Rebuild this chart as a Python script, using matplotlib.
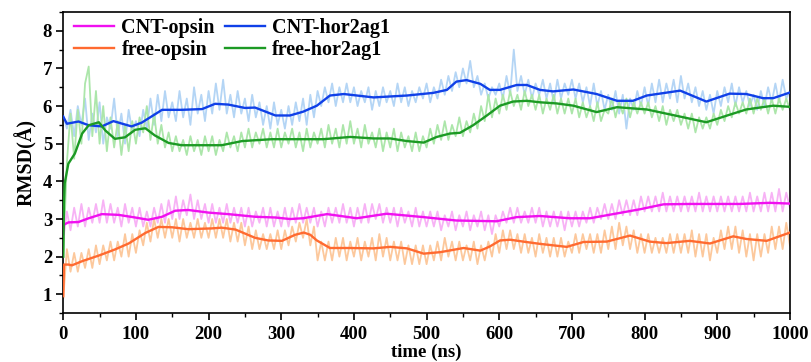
import numpy as np
import matplotlib
matplotlib.use("Agg")
import matplotlib.pyplot as plt
from matplotlib.ticker import MultipleLocator

t_raw = np.arange(0, 1001, 5)

raw_cnt_hor = [
    5.75, 5.4, 5.9, 5.2, 6.0, 5.5, 6.2, 5.1, 5.8, 5.3, 6.1, 5.0, 5.7, 5.4, 6.2, 5.2, 5.8, 5.0, 5.9, 5.3,
    5.6, 5.2, 5.9, 5.4, 6.2, 5.5, 6.3, 5.6, 6.4, 5.7, 6.1, 5.6, 6.4, 5.7, 6.2, 5.5, 6.5, 5.8, 6.3, 5.6,
    6.4, 5.8, 6.6, 5.9, 6.7, 5.8, 6.3, 5.7, 6.4, 5.8, 6.2, 5.6, 6.3, 5.7, 6.1, 5.5, 6.0, 5.4, 6.1, 5.5,
    5.9, 5.4, 6.0, 5.5, 6.1, 5.6, 6.2, 5.5, 6.3, 5.7, 6.4, 6.0, 6.5, 6.1, 6.6, 6.0, 6.5, 6.1, 6.6, 6.1,
    6.5, 6.0, 6.4, 6.1, 6.5, 5.9, 6.4, 6.0, 6.5, 6.1, 6.4, 6.0, 6.6, 6.1, 6.5, 6.0, 6.4, 6.1, 6.5, 6.2,
    6.6, 6.1, 6.5, 6.2, 6.7, 6.3, 6.8, 6.4, 6.9, 6.5, 7.0, 6.6, 7.2, 6.5, 6.8, 6.3, 6.6, 6.2, 6.5, 6.3,
    6.6, 6.2, 6.8, 6.3, 7.5, 6.4, 6.8, 6.3, 6.7, 6.2, 6.6, 6.3, 6.7, 6.2, 6.6, 6.1, 6.7, 6.2, 6.6, 6.3,
    6.7, 6.2, 6.6, 6.1, 6.5, 6.0, 6.6, 6.0, 6.4, 5.9, 6.3, 5.9, 6.4, 5.8, 6.3, 5.4, 6.2, 5.9, 6.4, 6.0,
    6.5, 6.0, 6.6, 6.1, 6.7, 6.1, 6.6, 6.2, 6.7, 6.1, 6.8, 6.2, 6.6, 6.1, 6.5, 6.0, 6.4, 5.9, 6.3, 5.8,
    6.4, 6.0, 6.5, 6.1, 6.6, 6.0, 6.5, 6.1, 6.4, 6.0, 6.3, 5.9, 6.4, 6.0, 6.5, 6.1, 6.6, 6.1, 6.7, 6.2,
    6.4]

raw_free_hor = [
    2.0, 4.5, 5.8, 4.6, 5.9, 5.0, 6.6, 7.05, 5.2, 6.4, 5.0, 6.0, 4.8, 5.7, 4.9, 5.6, 4.7, 5.5, 4.8, 5.6,
    5.0, 5.7, 5.3, 6.0, 5.1, 5.8, 5.0, 5.5, 4.9, 5.3, 4.8, 5.2, 4.8, 5.1, 4.7, 5.2, 4.8, 5.1, 4.7, 5.2,
    4.8, 5.2, 4.7, 5.1, 4.8, 5.3, 4.9, 5.2, 4.8, 5.3, 4.9, 5.4, 4.9, 5.3, 5.0, 5.4, 4.9, 5.3, 4.9, 5.4,
    4.9, 5.3, 5.0, 5.4, 4.9, 5.3, 4.8, 5.4, 4.9, 5.3, 5.0, 5.4, 4.9, 5.5, 5.0, 5.4, 4.9, 5.5, 5.0, 5.6,
    5.0, 5.4, 4.9, 5.5, 5.0, 5.3, 4.9, 5.4, 4.8, 5.3, 4.9, 5.4, 4.8, 5.3, 4.9, 5.2, 4.8, 5.3, 4.8, 5.2,
    4.9, 5.4, 5.0, 5.5, 5.1, 5.6, 5.1, 5.5, 5.2, 5.7, 5.2, 5.6, 5.3, 5.8, 5.4, 6.0, 5.6, 6.3, 5.7, 6.2,
    5.8, 6.3, 5.9, 6.4, 6.0, 6.3, 5.9, 6.4, 6.0, 6.3, 5.9, 6.3, 5.8, 6.2, 5.9, 6.3, 5.8, 6.2, 5.8, 6.2,
    5.8, 6.2, 5.7, 6.1, 5.7, 6.0, 5.6, 6.1, 5.6, 5.9, 5.8, 6.2, 5.7, 6.1, 5.8, 6.2, 5.7, 6.1, 5.8, 6.1,
    5.8, 6.1, 5.7, 6.0, 5.6, 6.0, 5.5, 5.9, 5.6, 5.9, 5.5, 5.8, 5.4, 5.8, 5.3, 5.7, 5.4, 5.7, 5.4, 5.8,
    5.5, 5.9, 5.6, 6.0, 5.7, 6.1, 5.8, 6.1, 5.8, 6.2, 5.8, 6.2, 5.9, 6.2, 5.8, 6.2, 5.8, 6.2, 5.9, 6.2,
    5.9]

raw_cnt_opsin = [
    2.5, 3.2, 2.7, 3.3, 2.8, 3.4, 2.8, 3.3, 2.9, 3.4, 2.9, 3.5, 2.9, 3.4, 2.9, 3.3, 2.8, 3.4, 2.9, 3.3,
    2.8, 3.3, 2.8, 3.2, 2.8, 3.3, 2.9, 3.4, 2.9, 3.5, 3.0, 3.6, 3.0, 3.5, 3.1, 3.65, 3.0, 3.5, 3.0, 3.4,
    2.9, 3.4, 2.9, 3.3, 2.9, 3.4, 2.9, 3.3, 2.9, 3.3, 2.8, 3.3, 2.8, 3.2, 2.9, 3.3, 2.8, 3.3, 2.8, 3.2,
    2.8, 3.3, 2.8, 3.3, 2.9, 3.4, 2.9, 3.3, 2.9, 3.3, 2.8, 3.2, 2.8, 3.3, 2.9, 3.3, 2.9, 3.4, 2.9, 3.3,
    2.8, 3.3, 2.9, 3.4, 2.9, 3.4, 3.0, 3.4, 2.9, 3.3, 2.9, 3.3, 2.8, 3.3, 2.9, 3.2, 2.8, 3.3, 2.8, 3.2,
    2.8, 3.2, 2.8, 3.2, 2.7, 3.1, 2.8, 3.2, 2.7, 3.1, 2.8, 3.2, 2.7, 3.1, 2.8, 3.2, 2.7, 3.1, 2.6, 3.1,
    2.8, 3.2, 2.9, 3.3, 2.9, 3.3, 2.9, 3.2, 2.9, 3.3, 2.9, 3.3, 2.8, 3.2, 2.8, 3.2, 2.8, 3.2, 2.7, 3.2,
    2.8, 3.2, 2.8, 3.2, 2.9, 3.3, 2.9, 3.3, 3.0, 3.4, 3.0, 3.4, 3.0, 3.5, 3.1, 3.5, 3.1, 3.5, 3.1, 3.6,
    3.2, 3.6, 3.2, 3.6, 3.2, 3.7, 3.2, 3.6, 3.2, 3.6, 3.2, 3.6, 3.2, 3.6, 3.2, 3.7, 3.2, 3.6, 3.2, 3.6,
    3.2, 3.6, 3.2, 3.6, 3.2, 3.6, 3.2, 3.6, 3.2, 3.7, 3.2, 3.6, 3.2, 3.7, 3.2, 3.7, 3.2, 3.8, 3.2, 3.7,
    3.3]

raw_free_opsin = [
    0.9, 2.2, 1.6, 2.1, 1.6, 2.1, 1.7, 2.2, 1.7, 2.3, 1.8, 2.3, 1.9, 2.4, 1.9, 2.4, 2.0, 2.6, 2.0, 2.6,
    2.1, 2.7, 2.3, 2.9, 2.4, 3.0, 2.5, 3.0, 2.5, 3.0, 2.5, 3.0, 2.4, 3.0, 2.5, 2.9, 2.5, 3.0, 2.5, 2.9,
    2.5, 3.0, 2.5, 3.0, 2.5, 3.0, 2.4, 2.9, 2.4, 2.9, 2.3, 2.8, 2.2, 2.7, 2.2, 2.6, 2.2, 2.6, 2.2, 2.7,
    2.2, 2.7, 2.3, 2.8, 2.4, 2.9, 2.5, 3.0, 2.3, 2.8, 1.9, 2.4, 1.9, 2.4, 1.9, 2.5, 2.0, 2.5, 1.9, 2.4,
    2.0, 2.5, 1.9, 2.4, 2.0, 2.5, 1.9, 2.6, 2.0, 2.5, 1.9, 2.4, 1.9, 2.4, 1.8, 2.3, 1.8, 2.3, 1.8, 2.3,
    1.8, 2.3, 1.9, 2.4, 1.9, 2.5, 2.0, 2.4, 1.9, 2.4, 1.9, 2.3, 1.9, 2.4, 1.8, 2.3, 1.9, 2.4, 2.0, 2.6,
    2.1, 2.7, 2.2, 2.7, 2.2, 2.6, 2.1, 2.6, 2.1, 2.5, 2.0, 2.6, 2.1, 2.5, 2.0, 2.5, 2.0, 2.5, 2.0, 2.4,
    2.1, 2.6, 2.1, 2.6, 2.2, 2.6, 2.1, 2.6, 2.1, 2.7, 2.2, 2.8, 2.2, 2.9, 2.3, 2.8, 2.2, 2.7, 2.1, 2.6,
    2.1, 2.6, 2.1, 2.5, 2.1, 2.5, 2.1, 2.6, 2.1, 2.6, 2.1, 2.6, 2.1, 2.7, 2.0, 2.6, 2.0, 2.6, 1.9, 2.5,
    2.1, 2.7, 2.2, 2.8, 2.2, 2.8, 2.1, 2.7, 2.0, 2.6, 1.9, 2.6, 2.0, 2.6, 2.1, 2.8, 2.2, 2.8, 2.2, 2.9,
    2.3]

# smoothed curves (running average), read at irregular times
t_cnt_hor = [0, 5, 21, 35, 53, 69, 94, 108, 136, 163, 191, 209, 227, 250, 264, 292, 312, 330, 349,
             367, 386, 427, 473, 509, 528, 541, 555, 574, 587, 601, 624, 638, 656, 674, 702, 734,
             762, 784, 803, 849, 885, 917, 940, 963, 977, 1000]
cnt_hor = [5.72, 5.53, 5.59, 5.49, 5.46, 5.60, 5.46, 5.56, 5.90, 5.90, 5.92, 6.06, 6.04, 5.95, 5.96,
           5.75, 5.75, 5.85, 6.01, 6.28, 6.32, 6.23, 6.28, 6.35, 6.43, 6.65, 6.69, 6.59, 6.43, 6.43,
           6.56, 6.56, 6.43, 6.39, 6.44, 6.32, 6.14, 6.14, 6.28, 6.41, 6.12, 6.33, 6.32, 6.21, 6.21,
           6.36]

t_free_hor = [0, 1, 2, 7, 16, 26, 35, 49, 58, 71, 85, 99, 113, 126, 145, 163, 195, 218, 246, 287,
              328, 358, 395, 427, 450, 473, 496, 514, 532, 546, 564, 583, 601, 619, 638, 656, 679,
              702, 734, 762, 803, 849, 885, 917, 940, 977, 1000]
free_hor = [2.0, 3.4, 3.95, 4.47, 4.74, 5.27, 5.49, 5.57, 5.35, 5.13, 5.17, 5.37, 5.41, 5.22, 5.02,
            4.96, 4.96, 4.96, 5.07, 5.12, 5.12, 5.12, 5.18, 5.14, 5.14, 5.07, 5.03, 5.18, 5.27, 5.29,
            5.49, 5.75, 6.01, 6.12, 6.14, 6.10, 6.07, 6.01, 5.84, 5.97, 5.91, 5.72, 5.57, 5.77, 5.91,
            6.01, 5.98]

t_cnt_opsin = [0, 1, 7, 21, 35, 53, 76, 99, 117, 136, 154, 172, 200, 227, 264, 292, 312, 330, 363,
               404, 445, 496, 541, 596, 624, 656, 697, 725, 771, 794, 826, 862, 895, 931, 972, 1000]
cnt_opsin = [2.6, 2.85, 2.91, 2.92, 3.02, 3.13, 3.11, 3.04, 2.98, 3.06, 3.22, 3.24, 3.17, 3.13, 3.06,
             3.04, 3.00, 3.02, 3.13, 3.02, 3.14, 3.05, 2.96, 2.94, 3.05, 3.08, 3.02, 3.02, 3.18, 3.26,
             3.39, 3.40, 3.40, 3.40, 3.43, 3.41]

t_free_opsin = [0, 1, 7, 12, 26, 49, 71, 90, 113, 131, 150, 172, 204, 218, 237, 264, 282, 301, 319,
                331, 340, 349, 367, 395, 427, 450, 473, 496, 519, 551, 574, 587, 601, 615, 633, 656,
                693, 716, 748, 780, 807, 830, 862, 890, 922, 940, 968, 1000]
free_opsin = [0.95, 1.79, 1.79, 1.77, 1.88, 2.03, 2.19, 2.35, 2.63, 2.79, 2.78, 2.73, 2.75, 2.77,
              2.72, 2.50, 2.43, 2.42, 2.58, 2.64, 2.58, 2.43, 2.23, 2.23, 2.22, 2.26, 2.22, 2.08,
              2.12, 2.23, 2.16, 2.27, 2.43, 2.45, 2.40, 2.34, 2.26, 2.39, 2.40, 2.56, 2.40, 2.36,
              2.42, 2.35, 2.54, 2.47, 2.42, 2.64]

plt.rcParams['font.family'] = ['Liberation Serif', 'DejaVu Serif']
plt.rcParams['font.weight'] = 'bold'

fig = plt.figure(figsize=(8.11, 3.62), dpi=100)
ax = fig.add_axes([0.078, 0.135, 0.896, 0.832])

# faint raw data
ax.plot(t_raw, raw_cnt_hor, color='#b4d5f5', lw=1.3, zorder=1)
ax.plot(t_raw, raw_free_hor, color='#ace6aa', lw=1.3, zorder=1)
ax.plot(t_raw, raw_cnt_opsin, color='#f7b2f5', lw=1.3, zorder=1)
ax.plot(t_raw, raw_free_opsin, color='#fcc89c', lw=1.3, zorder=1)

# smoothed curves
l1, = ax.plot(t_cnt_opsin, cnt_opsin, color='#f010f0', lw=1.7, label='CNT-opsin', zorder=3)
l2, = ax.plot(t_cnt_hor, cnt_hor, color='#1040e8', lw=1.7, label='CNT-hor2ag1', zorder=3)
l3, = ax.plot(t_free_opsin, free_opsin, color='#ff6a30', lw=1.7, label='free-opsin', zorder=3)
l4, = ax.plot(t_free_hor, free_hor, color='#1c9a24', lw=1.7, label='free-hor2ag1', zorder=3)

ax.set_xlim(0, 1000)
ax.set_ylim(0.5, 8.5)
ax.xaxis.set_major_locator(MultipleLocator(100))
ax.xaxis.set_minor_locator(MultipleLocator(50))
ax.yaxis.set_major_locator(MultipleLocator(1))
ax.yaxis.set_minor_locator(MultipleLocator(0.5))
ax.tick_params(which='major', direction='out', length=5, width=1.2, labelsize=13.5)
ax.tick_params(axis='x', which='major', pad=4)
ax.tick_params(axis='y', which='major', pad=3)
ax.tick_params(which='minor', direction='out', length=3, width=1.0)
for s in ax.spines.values():
    s.set_linewidth(1.2)

ax.set_xlabel('time (ns)', fontsize=13.5, fontweight='bold', labelpad=1)
ax.set_ylabel('RMSD(Å)', fontsize=14.5, fontweight='bold', labelpad=4)

ax.legend(handles=[l1, l3, l2, l4], ncol=2, loc='upper left', frameon=False,
          fontsize=14.5, bbox_to_anchor=(-0.01, 1.04), handlelength=2.0,
          handletextpad=0.35, columnspacing=0.5, labelspacing=0.12)

fig.savefig('out.png', dpi=100)
